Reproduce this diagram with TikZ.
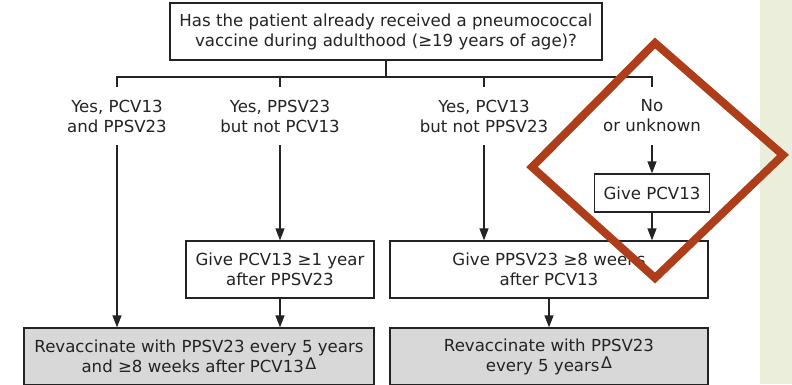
\documentclass[tikz,border=0pt]{standalone}
\usepackage{fontspec}
\setsansfont{DejaVu Sans}
\usetikzlibrary{arrows.meta}
\definecolor{Ink}{HTML}{232323}
\definecolor{Panel}{HTML}{EAEEDA}
\definecolor{Rust}{HTML}{AE3E19}
\definecolor{Shade}{HTML}{D8D8D8}
\newcommand{\tridelta}{\kern1.5pt\raisebox{3pt}{\fontsize{16}{16}\selectfont Δ}}

\begin{document}
\begin{tikzpicture}[x=1pt,y=-1pt,every node/.style={font=\sffamily\fontsize{16.6}{20}\selectfont,text=Ink,align=center},
  stepbox/.style={draw=Ink,line width=1.3pt,inner sep=0pt,fill=white,minimum height=57pt},
  answer/.style={inner sep=0pt,minimum height=58pt},
  arr/.style={-{Triangle[length=12pt,width=9pt]},line width=1.3pt,draw=Ink}]
\useasboundingbox (0,0) rectangle (792,384);
\clip (0,0) rectangle (792,384);
\fill[white] (0,0) rectangle (792,384);
\fill[Panel] (760,0) rectangle (792,384);
\node[stepbox,minimum width=432pt] (q) at (386,31.5) {Has the patient already received a pneumococcal\\vaccine during adulthood (≥19 years of age)?};
\node[answer] (l1) at (117,116) {Yes, PCV13\\and PPSV23};
\node[answer] (l2) at (280,116) {Yes, PPSV23\\but not PCV13};
\node[answer] (l3) at (484,116) {Yes, PCV13\\but not PPSV23};
\node[answer] (l4) at (652,116) {No\\or unknown};
\node[stepbox,minimum width=115pt,minimum height=38pt] (b4) at (652,193) {Give PCV13};
\node[stepbox,minimum width=188pt] (b2) at (280,269.5) {Give PCV13 ≥1 year\\after PPSV23};
\node[stepbox,minimum width=318pt] (b3) at (549,269.5) {Give PPSV23 ≥8 weeks\\after PCV13};
\node[stepbox,fill=Shade,minimum width=350pt] (r1) at (199,356.5) {Revaccinate with PPSV23 every 5 years\\and ≥8 weeks after PCV13\tridelta};
\node[stepbox,fill=Shade,minimum width=318pt] (r2) at (549,356.5) {Revaccinate with PPSV23\\every 5 years\tridelta};
\coordinate (bar) at (386,77);
\draw[line width=1.3pt,Ink] (q.south) -- (bar) (l1.north) |- (bar) -| (l4.north)
  (l2.north) -- (l2.north |- bar) (l3.north) -- (l3.north |- bar);
\draw[arr] (l1.south) -- (l1.south |- r1.north);
\draw[arr] (l2.south) -- (b2.north);
\draw[arr] (b2.south) -- (b2.south |- r1.north);
\draw[arr] (l3.south) -- (l3.south |- b3.north);
\draw[arr] (b3.south) -- (r2.north);
\draw[arr] (l4.south) -- (b4.north);
\draw[arr] (b4.south) -- (b4.south |- b3.north);
\draw[Rust,line width=8pt] (655,43) -- (783,155) -- (655,278) -- (532,167) -- cycle;
\end{tikzpicture}
\end{document}
